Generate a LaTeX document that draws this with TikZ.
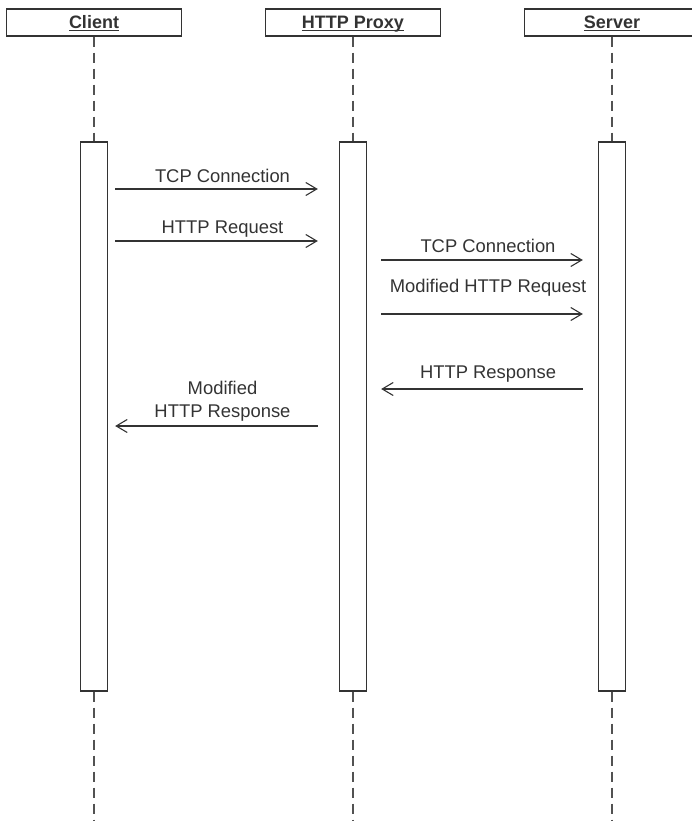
\documentclass[tikz,border=0pt]{standalone}
\usepackage{fontspec}
\setmainfont{Liberation Sans}
\usetikzlibrary{arrows.meta}

\definecolor{ink}{HTML}{333333}
\newcommand\headtext[1]{\underline{\smash{#1}}}
\tikzset{
  head/.style={draw=ink,line width=1.2pt,minimum width=175pt,minimum height=27pt,inner sep=0pt,text height=12pt,text depth=0pt,font=\fontsize{18}{21}\selectfont\bfseries,text=ink},
  bar/.style={draw=ink,line width=1.3pt,fill=white,minimum width=27pt,minimum height=549pt,inner sep=0pt},
  life/.style={draw=ink!85,line width=1.2pt,dash pattern=on 10.7pt off 5.3pt},
  msg/.style={draw=ink,line width=1.1pt,-{Straight Barb[length=11pt,width=13pt,line width=1.1pt]}},
  lbl/.style={font=\fontsize{18.4}{22.7}\selectfont,text=ink,align=center,inner sep=0pt,text depth=0pt,anchor=south,midway,xshift=6pt}
}

\begin{document}
\begin{tikzpicture}[x=1pt,y=-1pt]
	\useasboundingbox (0,0) rectangle (691,821);

	% headers
	\node[head] (chead) at (94,22.5) {\headtext{Client}};
	\node[head] (phead) at (353,22.5) {\headtext{HTTP Proxy}};
	\node[head] (shead) at (612,22.5) {\headtext{Server}};

	% activation bars
	\node[bar] (cbar) at (94,416.5) {};
	\node[bar] (pbar) at (353,416.5) {};
	\node[bar] (sbar) at (612,416.5) {};

	% lifelines
	\draw[life] (chead.south) -- (cbar.north);
	\draw[life] (phead.south) -- (pbar.north);
	\draw[life] (shead.south) -- (sbar.north);
	\coordinate (cend) at (cbar.south |- 0,821);
	\coordinate (pend) at (pbar.south |- 0,821);
	\coordinate (send) at (sbar.south |- 0,821);
	\draw[life] (cbar.south) -- (cend);
	\draw[life] (pbar.south) -- (pend);
	\draw[life] (sbar.south) -- (send);

	% messages
	\draw[msg] ([xshift=7pt]cbar.east |- 0,189) -- ([xshift=-21pt]pbar.west |- 0,189)
		node[lbl,yshift=6pt] {TCP Connection};
	\draw[msg] ([xshift=7pt]cbar.east |- 0,241) -- ([xshift=-21pt]pbar.west |- 0,241)
		node[lbl,yshift=6.6pt] {HTTP Request};
	\draw[msg] ([xshift=14pt]pbar.east |- 0,260) -- ([xshift=-15pt]sbar.west |- 0,260)
		node[lbl,yshift=6.7pt] {TCP Connection};
	\draw[msg] ([xshift=14pt]pbar.east |- 0,314) -- ([xshift=-15pt]sbar.west |- 0,314)
		node[lbl,yshift=21pt] {Modified HTTP Request};
	\draw[msg] ([xshift=-15pt]sbar.west |- 0,389) -- ([xshift=14pt]pbar.east |- 0,389)
		node[lbl,yshift=9.7pt] {HTTP Response};
	\draw[msg] ([xshift=-21pt]pbar.west |- 0,426) -- ([xshift=7pt]cbar.east |- 0,426)
		node[lbl,yshift=8.3pt] {Modified\\HTTP Response};
\end{tikzpicture}
\end{document}
